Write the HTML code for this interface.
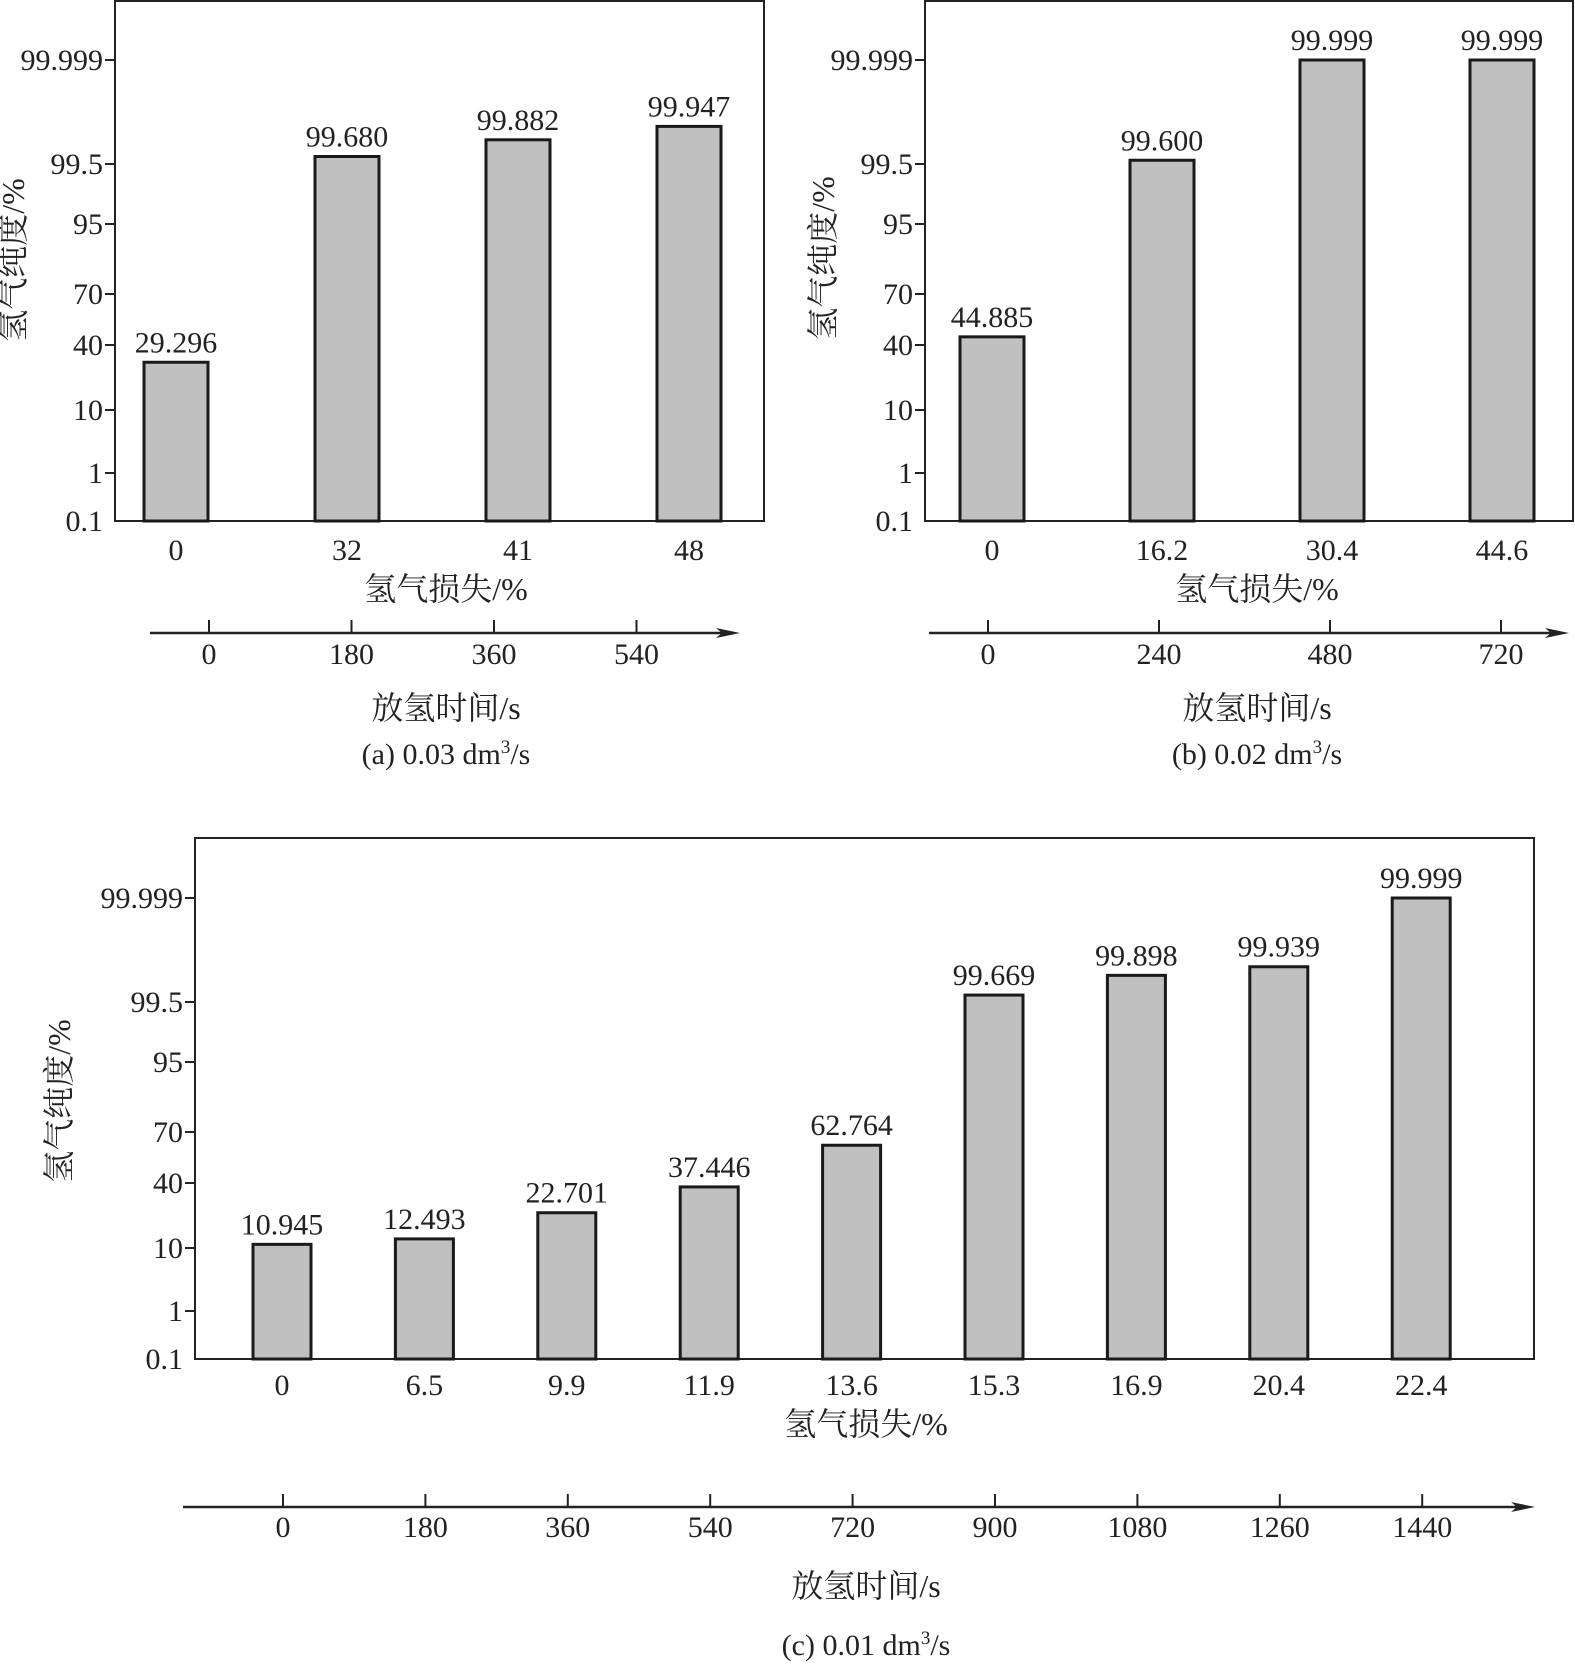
<!DOCTYPE html>
<html><head><meta charset="utf-8">
<style>
html,body{margin:0;padding:0;background:#fff;}
svg{display:block;font-family:"Liberation Serif","Noto Serif CJK SC","Noto Sans CJK SC",serif;}
</style></head>
<body>
<svg id="chart" width="1575" height="1667" viewBox="0 0 1575 1667" xmlns="http://www.w3.org/2000/svg"></svg>
<script>
// Panel (a)
const catsA = ["0","32","41","48"];
const valsA = [29.296, 99.680, 99.882, 99.947];
const lblsA = ["29.296","99.680","99.882","99.947"];
const timesA = ["0","180","360","540"];
// Panel (b)
const catsB = ["0","16.2","30.4","44.6"];
const valsB = [44.885, 99.600, 99.999, 99.999];
const lblsB = ["44.885","99.600","99.999","99.999"];
const timesB = ["0","240","480","720"];
// Panel (c)
const catsC = ["0","6.5","9.9","11.9","13.6","15.3","16.9","20.4","22.4"];
const valsC = [10.945, 12.493, 22.701, 37.446, 62.764, 99.669, 99.898, 99.939, 99.999];
const lblsC = ["10.945","12.493","22.701","37.446","62.764","99.669","99.898","99.939","99.999"];
const timesC = ["0","180","360","540","720","900","1080","1260","1440"];
// Y axis ticks (shared)
const yTickVals = [0.1, 1, 10, 40, 70, 95, 99.5, 99.999];
const yTickLabels = ["0.1","1","10","40","70","95","99.5","99.999"];
const yTickOffsets = [0, 48, 111, 176, 227, 297, 357, 461]; // layout: px above baseline

const NS = "http://www.w3.org/2000/svg";
const svg = document.getElementById('chart');
function mk(tag, attrs, parent, text){
  const e = document.createElementNS(NS, tag);
  for (const k in attrs) e.setAttribute(k, attrs[k]);
  if (text !== undefined) e.textContent = text;
  (parent || svg).appendChild(e);
  return e;
}
function logit(p){ return Math.log(p/(100-p)); }
function yOffset(v){
  const l = logit(v);
  for (let i=0;i<yTickVals.length-1;i++){
    const a = logit(yTickVals[i]), b = logit(yTickVals[i+1]);
    if (l <= b || i === yTickVals.length-2){
      const t = Math.max(0,(l-a)/(b-a));
      return yTickOffsets[i] + t*(yTickOffsets[i+1]-yTickOffsets[i]);
    }
  }
  return 0;
}

function panel(P, cats, vals, lbls, times){
  const g = mk('g', {});
  
  
  const yS = v => P.bottom - yOffset(v);
  const xS = i => P.barX0 + i*P.barStep;
  const fr = mk('rect', {x:P.left, y:P.top, width:P.right-P.left, height:P.bottom-P.top, fill:'none', stroke:'#222', 'stroke-width':2}, g);
  
  
  yTickVals.forEach((v,i)=>{
    const y = yS(v);
    if (i>0) {
      const tk = mk('line', {x1:P.left-10, x2:P.left, y1:y, y2:y, stroke:'#222', 'stroke-width':2}, g);
      
      
    }
    const t = mk('text', {x:P.left-12, y:y+10, 'font-size':30, 'text-anchor':'end', fill:'#222'}, g, yTickLabels[i]);
    
    
  });
  const yt = mk('text', {x:0, y:0, 'font-size':32, 'text-anchor':'middle', fill:'#222', transform:`translate(${P.yTitleX},${P.yTitleY}) rotate(-90)`}, g, '氢气纯度/%');
  
  
  cats.forEach((c,i)=>{
    const cx = xS(i);
    const top = yS(vals[i]);
    const b = mk('rect', {x:cx-P.barW/2, y:top, width:P.barW, height:P.bottom-top, fill:'#c0c0c0', stroke:'#1a1a1a', 'stroke-width':3}, g);
    
    
    const vl = mk('text', {x:cx, y:top-10, 'font-size':30, 'text-anchor':'middle', fill:'#222'}, g, lbls[i]);
    
    
    const xl = mk('text', {x:cx, y:P.xLabY, 'font-size':30, 'text-anchor':'middle', fill:'#222'}, g, c);
    
    
  });
  const xt = mk('text', {x:P.titleX, y:P.xTitleY, 'font-size':32, 'text-anchor':'middle', fill:'#222'}, g, '氢气损失/%');
  
  
  const al = mk('line', {x1:P.arrX0, x2:P.arrX1-14, y1:P.arrY, y2:P.arrY, stroke:'#222', 'stroke-width':2.5}, g);
  
  
  const ah = mk('path', {d:`M${P.arrX1},${P.arrY} L${P.arrX1-24},${P.arrY-5} L${P.arrX1-18},${P.arrY} L${P.arrX1-24},${P.arrY+5} Z`, fill:'#222'}, g);
  
  
  times.forEach((t,i)=>{
    const x = P.tX0 + i*P.tStep;
    const tk = mk('line', {x1:x, x2:x, y1:P.arrY-13, y2:P.arrY, stroke:'#222', 'stroke-width':2}, g);
    
    
    const tl = mk('text', {x:x, y:P.tLabY, 'font-size':30, 'text-anchor':'middle', fill:'#222'}, g, t);
    
    
  });
  const tt = mk('text', {x:P.titleX, y:P.tTitleY, 'font-size':32, 'text-anchor':'middle', fill:'#222'}, g, '放氢时间/s');
  
  
  const cap = mk('text', {x:P.titleX, y:P.capY, 'font-size':30, 'text-anchor':'middle', fill:'#222'}, g);
  
  
  cap.appendChild(document.createTextNode(P.cap + ' dm'));
  mk('tspan', {'font-size':19, dy:-11}, cap, '3');
  mk('tspan', {dy:11}, cap, '/s');
}

panel({name:'panel-a', left:115, right:764, top:1, bottom:521, barX0:176, barStep:171, barW:64,
  xLabY:560, titleX:446, xTitleY:600, arrX0:150, arrX1:740, arrY:633, tX0:209, tStep:142.5, tLabY:664,
  tTitleY:719, capY:764, yTitleX:24, yTitleY:260, cap:'(a) 0.03'}, catsA, valsA, lblsA, timesA);

panel({name:'panel-b', left:925, right:1573, top:1, bottom:521, barX0:992, barStep:170, barW:64,
  xLabY:560, titleX:1257, xTitleY:600, arrX0:929, arrX1:1569, arrY:633, tX0:988, tStep:171, tLabY:664,
  tTitleY:719, capY:764, yTitleX:834, yTitleY:258, cap:'(b) 0.02'}, catsB, valsB, lblsB, timesB);

panel({name:'panel-c', left:195, right:1534, top:838, bottom:1359, barX0:282, barStep:142.4, barW:58,
  xLabY:1395, titleX:866, xTitleY:1435, arrX0:183, arrX1:1535, arrY:1507, tX0:283, tStep:142.4, tLabY:1537,
  tTitleY:1597, capY:1655, yTitleX:70, yTitleY:1101, cap:'(c) 0.01'}, catsC, valsC, lblsC, timesC);
</script>
</body></html>
